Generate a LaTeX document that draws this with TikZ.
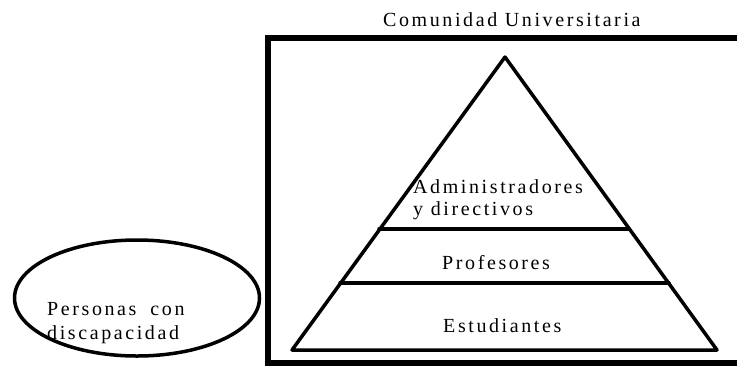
\documentclass[tikz,border=0pt]{standalone}
\usepackage{fontspec}
\setmainfont{Liberation Serif}[LetterSpace=13]
\usetikzlibrary{shapes.geometric}
\tikzstyle{Label}=[inner sep=0pt, anchor=base west, font=\fontsize{20}{24}\selectfont]
\tikzstyle{Layer}=[line width=3.5pt, line cap=round, line join=round]

\begin{document}
\begin{tikzpicture}[x=1pt,y=-1pt]
    \useasboundingbox (0,0) rectangle (737,368);
    \path
    (137,298) node[ellipse, draw=black, line width=3.5pt, minimum width=245, minimum height=116] (group) {}
    (505,57) coordinate (apex)
    (292,350) coordinate (baseL)
    (717,350) coordinate (baseR)
    (379,229) coordinate (midL)
    (629,229) coordinate (midR)
    (340,283) coordinate (lowL)
    (669,283) coordinate (lowR);

    \path (383,26) node[Label] (title) {Comunidad Universitaria}
    (413,193) node[Label] (admin) {Administradores}
    (413,215) node[Label] (admin2) {y directivos}
    (442,269) node[Label] (prof) {Profesores}
    (443,332) node[Label] (est) {Estudiantes}
    (47,315) node[Label] (pers) {Personas\hspace{0.7em}con}
    (47,339) node[Label] (pers2) {discapacidad};

    \draw[line width=5.5pt] (760,38) -| (268,363) -- (760,363);
    \draw[Layer] (apex) -- (baseR) -- (baseL) -- cycle;
    \draw[Layer] (midL) -- (midR);
    \draw[Layer] (lowL) -- (lowR);
\end{tikzpicture}
\end{document}
